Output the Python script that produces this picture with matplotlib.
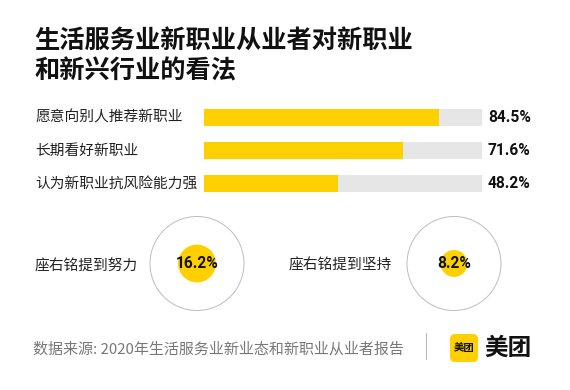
import matplotlib
matplotlib.use("Agg")
import matplotlib.pyplot as plt
from matplotlib.patches import Circle, FancyBboxPatch
from matplotlib.transforms import blended_transform_factory
import numpy as np

plt.rcParams['font.family'] = ['Noto Sans CJK SC', 'DejaVu Sans']

title_lines = ["生活服务业新职业从业者对新职业", "和新兴行业的看法"]
bar_labels = ["愿意向别人推荐新职业", "长期看好新职业", "认为新职业抗风险能力强"]
bar_values = [84.5, 71.6, 48.2]
circle_labels = ["座右铭提到努力", "座右铭提到坚持"]
circle_values = [16.2, 8.2]
source = "数据来源: 2020年生活服务业新业态和新职业从业者报告"
brand = "美团"

YELLOW = "#FFD000"
TRACK = "#E6E6E6"
NUM_FONT = ['Roboto', 'DejaVu Sans']

W, H = 570, 390
fig = plt.figure(figsize=(W / 100, H / 100), dpi=100)
fig.patch.set_facecolor("white")

# pixel-space overlay axes
px = fig.add_axes([0, 0, 1, 1])
px.set_xlim(0, W)
px.set_ylim(H, 0)
px.axis("off")

# title
for y, line in zip([40, 71], title_lines):
    px.text(34, y, line, fontsize=18.2, fontweight="bold",
            color="#111111", va="center", ha="left")

# bar axes
bx0, bx1 = 204, 482
by_top, by_bot = 101.5, 200
bax = fig.add_axes([bx0 / W, (H - by_bot) / H, (bx1 - bx0) / W, (by_bot - by_top) / H])
ypos = np.arange(len(bar_values))
bax.barh(ypos, [100] * len(bar_values), height=0.52, color=TRACK)
bax.barh(ypos, bar_values, height=0.52, color=YELLOW)
bax.set_xlim(0, 100)
bax.set_ylim(len(bar_values) - 0.5, -0.5)
bax.axis("off")

tr = blended_transform_factory(fig.transFigure, bax.transData)
for y, lab, v in zip(ypos, bar_labels, bar_values):
    bax.text(35 / W, y, lab, transform=tr, fontsize=10.6, color="#222222",
             va="center", ha="left")
    bax.text(488 / W, y, f"{v:.1f}%", transform=tr, fontsize=11.2,
             fontweight="bold", family=NUM_FONT, color="#111111",
             va="center", ha="left")

# circles
R = 47
cy = 263.5
centers_x = [197, 454]
label_x = [35, 289]
for cx, lx, lab, v in zip(centers_x, label_x, circle_labels, circle_values):
    px.add_patch(Circle((cx, cy), R, facecolor="none", edgecolor="#BDBDBD",
                        linewidth=0.7))
    px.add_patch(Circle((cx, cy), R * np.sqrt(v / 100), facecolor=YELLOW,
                        edgecolor="none"))
    px.text(cx, cy, f"{v:.1f}%", fontsize=11.2, fontweight="bold",
            family=NUM_FONT, color="#111111", ha="center", va="center")
    px.text(lx, cy + 2, lab, fontsize=10.6, color="#222222", ha="left", va="center")

# footer
px.text(33, 349, source, fontsize=10.8, color="#777777", ha="left", va="center")
px.plot([426, 426], [333, 359], color="#BBBBBB", linewidth=0.8)
px.add_patch(FancyBboxPatch((450, 334), 28, 28, boxstyle="round,pad=0,rounding_size=5",
                            facecolor=YELLOW, edgecolor="none"))
px.text(464, 348, brand, fontsize=7.5, fontweight="bold", color="#111111",
        ha="center", va="center")
px.text(484, 348, brand, fontsize=17, fontweight="bold", color="#111111",
        ha="left", va="center")

fig.savefig("out.png", dpi=100, facecolor="white")
